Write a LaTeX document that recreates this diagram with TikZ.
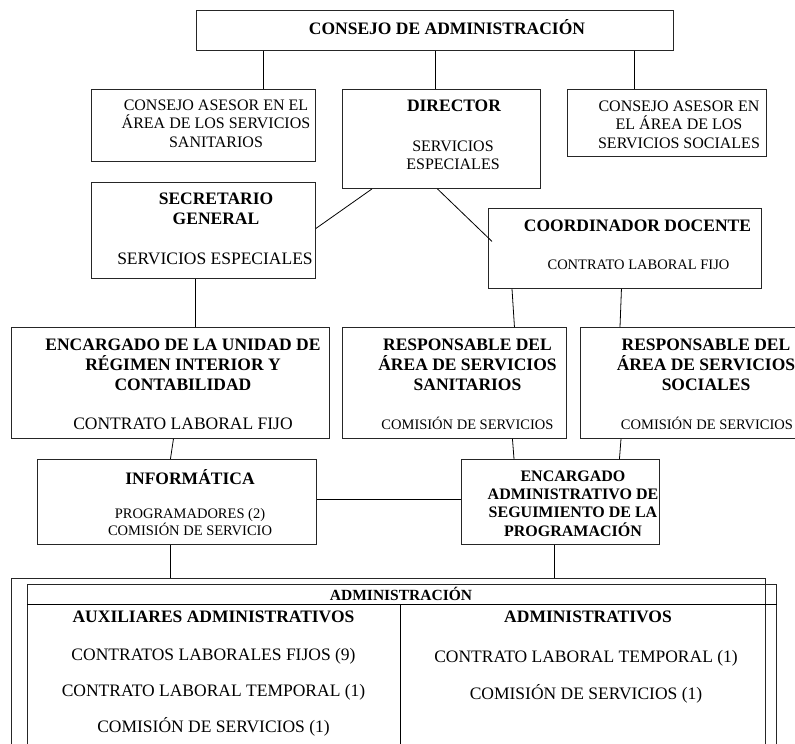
\documentclass[tikz,border=0pt]{standalone}
\usepackage{fontspec}
\setmainfont{Liberation Serif}
\usetikzlibrary{positioning}

\begin{document}
\begin{tikzpicture}[x=1pt,y=-1pt,
  box/.style={draw=black!85,line width=0.9pt,inner sep=0,anchor=north west},
  link/.style={draw=black,line width=0.8pt},
  hb/.style={font=\fontsize{17.5}{20}\selectfont\bfseries,align=center,inner sep=0},
  mb/.style={font=\fontsize{16}{18.3}\selectfont\bfseries,align=center,inner sep=0},
  ab/.style={font=\fontsize{15.5}{18}\selectfont\bfseries,align=center,inner sep=0},
  tl/.style={font=\fontsize{17.5}{20}\selectfont,align=center,inner sep=0},
  tm/.style={font=\fontsize{16}{18.5}\selectfont,align=center,inner sep=0},
  ts/.style={font=\fontsize{14.5}{17}\selectfont,align=center,inner sep=0}]
\useasboundingbox (0,0) rectangle (795,744);
\clip (0,0) rectangle (795,744);
% boxes
\node[box,minimum width=477,minimum height=40] (cda) at (196,10) {};
\node[box,minimum width=224,minimum height=72] (asan) at (91,89) {};
\node[box,minimum width=198,minimum height=99] (dir) at (342,89) {};
\node[box,minimum width=199,minimum height=67] (asoc) at (567,89) {};
\node[box,minimum width=224,minimum height=96] (sec) at (91,182) {};
\node[box,minimum width=273,minimum height=80] (coord) at (488,208) {};
\node[box,minimum width=318,minimum height=111] (enc) at (11,327) {};
\node[box,minimum width=224,minimum height=111] (rsan) at (342,327) {};
\node[box,minimum width=224,minimum height=111] (rsoc) at (580,327) {};
\node[box,minimum width=279,minimum height=85] (inf) at (37,459) {};
\node[box,minimum width=198,minimum height=85] (eadm) at (461,459) {};
\node[box,minimum width=754,minimum height=250] (adm) at (11,578) {};
\node[box,minimum width=749,minimum height=240] (tab) at (27,584) {};
\coordinate (hdl) at (27,604);
\coordinate (div) at (400,604);
\draw[link] (hdl) -- (hdl -| tab.east);
\draw[link] (div) -- (div |- tab.south);
% texts
\node[hb] (cdat) at (447,27) {CONSEJO DE ADMINISTRACIÓN};
\node[tm] (asant) at (216,123.5) {CONSEJO ASESOR EN EL\\ÁREA DE LOS SERVICIOS\\SANITARIOS};
\node[hb] (dirh) at (454,106) {DIRECTOR};
\node[tm] (dirs) at (453,155.5) {SERVICIOS\\ESPECIALES};
\node[tm] (asoct) at (679,124.5) {CONSEJO ASESOR EN\\EL ÁREA DE LOS\\SERVICIOS SOCIALES};
\node[hb] (sech) at (216,208.5) {SECRETARIO\\GENERAL};
\node[tl] (secs) at (215,259) {SERVICIOS ESPECIALES};
\node[hb] (coordh) at (637.5,226) {COORDINADOR DOCENTE};
\node[ts] (coords) at (638.5,265) {CONTRATO LABORAL FIJO};
\node[hb] (ench) at (183,365) {ENCARGADO DE LA UNIDAD DE\\RÉGIMEN INTERIOR Y\\CONTABILIDAD};
\node[tl] (encs) at (183,424) {CONTRATO LABORAL FIJO};
\node[hb] (rsanh) at (467.5,365) {RESPONSABLE DEL\\ÁREA DE SERVICIOS\\SANITARIOS};
\node[ts] (rsans) at (467.5,423) {COMISIÓN DE SERVICIOS};
\node[hb] (rsoch) at (706,365) {RESPONSABLE DEL\\ÁREA DE SERVICIOS\\SOCIALES};
\node[ts] (rsocs) at (707,423) {COMISIÓN DE SERVICIOS};
\node[hb] (infh) at (190,477) {INFORMÁTICA};
\node[ts] (infs) at (190,522.5) {PROGRAMADORES (2)\\COMISIÓN DE SERVICIO};
\node[mb] (eadmh) at (573,503.5) {ENCARGADO\\ADMINISTRATIVO DE\\SEGUIMIENTO DE LA\\PROGRAMACIÓN};
\node[ab] (admh) at (401,594) {ADMINISTRACIÓN};
\node[hb] (auxh) at (213.5,617) {AUXILIARES ADMINISTRATIVOS};
\node[tl] (aux1) at (213.5,656) {CONTRATOS LABORALES FIJOS (9)};
\node[tl] (aux2) at (213.5,692) {CONTRATO LABORAL TEMPORAL (1)};
\node[tl] (aux3) at (213.5,727) {COMISIÓN DE SERVICIOS (1)};
\node[hb] (admvh) at (588,617) {ADMINISTRATIVOS};
\node[tl] (admv1) at (586,658) {CONTRATO LABORAL TEMPORAL (1)};
\node[tl] (admv2) at (586,694) {COMISIÓN DE SERVICIOS (1)};
% connectors
\draw[link] ([xshift=60]asan.north) -- ([xshift=60]asan.north |- cda.south);
\draw[link] (cda.south) -- (cda.south |- dir.north);
\draw[link] ([xshift=-33]asoc.north) -- ([xshift=-33]asoc.north |- cda.south);
\draw[link] ([xshift=30]dir.south west) -- ([yshift=2]sec.east);
\draw[link] ([xshift=-4]dir.south) -- ([xshift=4,yshift=7]coord.west);
\draw[link] ([xshift=-8]sec.south) -- ([xshift=-8]sec.south |- enc.north);
\draw[link] ([xshift=24]coord.south west) -- ([xshift=60]rsan.north);
\draw[link] ([xshift=-3.5]coord.south) -- ([xshift=40]rsoc.north west);
\draw[link] ([xshift=3]enc.south) -- ([xshift=-6.5]inf.north);
\draw[link] ([xshift=58]rsan.south) -- ([xshift=53]eadm.north west);
\draw[link] ([xshift=41]rsoc.south west) -- ([xshift=59]eadm.north);
\draw[link] ([yshift=2.5]inf.east) -- ([yshift=2.5]eadm.west);
\draw[link] ([xshift=-6.5]inf.south) -- ([xshift=-6.5]inf.south |- adm.north);
\draw[link] ([xshift=-6]eadm.south) -- ([xshift=-6]eadm.south |- adm.north);
\end{tikzpicture}
\end{document}
